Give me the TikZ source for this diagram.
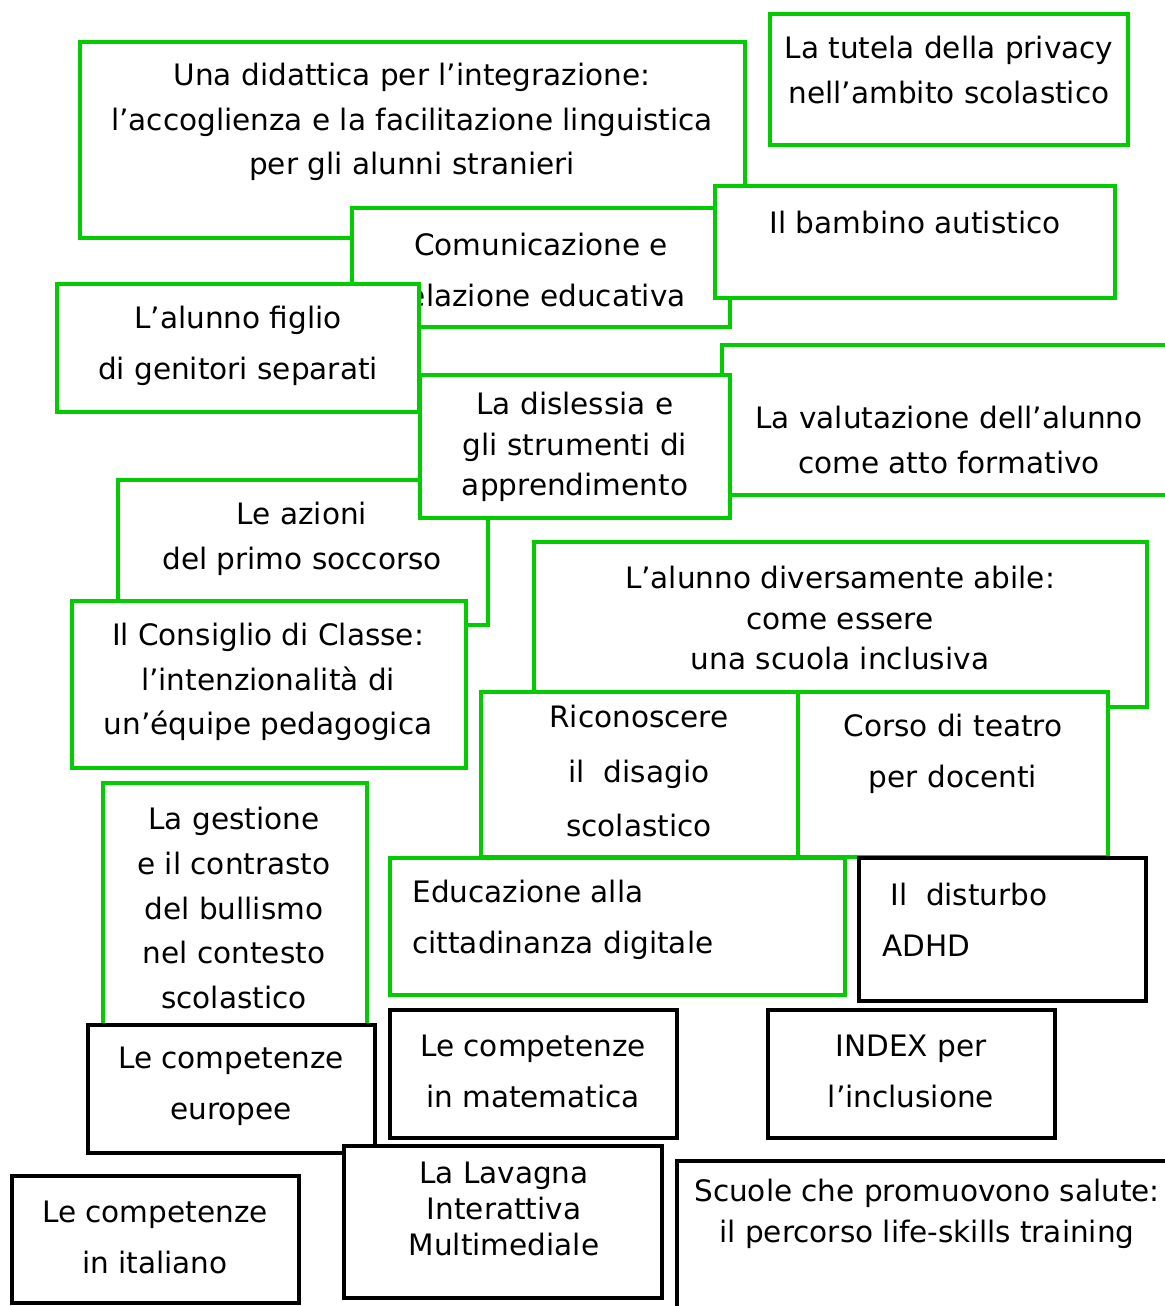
\documentclass[tikz,border=0pt]{standalone}
\usepackage{fontspec}
\setmainfont{DejaVu Sans}
\definecolor{boxgreen}{RGB}{0,204,0}
\tikzset{
	gbox/.style={draw=boxgreen, line width=2.3pt, fill=white},
	kbox/.style={draw=black, line width=2.6pt, fill=white},
	lbl/.style={align=center, inner sep=0pt, font=\fontsize{16.8}{25.5}\selectfont},
	tight/.style={font=\fontsize{16.8}{23}\selectfont},
	wide/.style={font=\fontsize{16.8}{29}\selectfont},
	narrow/.style={font=\fontsize{16.8}{20.5}\selectfont}
}
\begin{document}
\begin{tikzpicture}[x=0.02cm, y=-0.02cm]
	\useasboundingbox (0,0) rectangle (1165,1306);
	\clip (0,0) rectangle (1165,1306);
	% green boxes
	\draw[gbox] (80,42) rectangle (745,238);
	\node[lbl] (didattica) at (412,122) {Una didattica per l’integrazione:\\l’accoglienza e la facilitazione linguistica\\per gli alunni stranieri};
	\draw[gbox] (770,14) rectangle (1128,145);
	\node[lbl] (tutela) at (949,70) {La tutela della privacy\\nell’ambito scolastico};
	\draw[gbox] (352,208) rectangle (730,327);
	\node[lbl, wide] (comunicazione) at (541,270) {Comunicazione e\\relazione educativa};
	\draw[gbox] (715,186) rectangle (1115,298);
	\node[lbl] (autistico) at (915,222) {Il bambino autistico};
	\draw[gbox] (57,284) rectangle (419,412);
	\node[lbl, wide] (separati) at (238,346) {L’alunno figlio\\di genitori separati};
	\draw[gbox] (722,345) rectangle (1180,495);
	\node[lbl] (valutazione) at (949,440) {La valutazione dell’alunno\\come atto formativo};
	\draw[gbox] (118,480) rectangle (488,625);
	\node[lbl] (soccorso) at (302,539) {Le azioni\\del primo soccorso};
	\draw[gbox] (420,375) rectangle (730,518);
	\node[lbl, tight] (dislessia) at (575,447) {La dislessia e\\gli strumenti di\\apprendimento};
	\draw[gbox] (72,601) rectangle (466,768);
	\node[lbl] (consiglio) at (268,682) {Il Consiglio di Classe:\\l’intenzionalità di\\un’équipe pedagogica};
	\draw[gbox] (534,542) rectangle (1147,707);
	\node[lbl, tight] (abile) at (840,618) {L’alunno diversamente abile:\\come essere\\una scuola inclusiva};
	\draw[gbox] (481,692) rectangle (798,857);
	\node[lbl, font=\fontsize{16.8}{31}\selectfont] (disagio) at (639,771) {Riconoscere\\il~~disagio\\scolastico};
	\draw[gbox] (798,692) rectangle (1108,857);
	\node[lbl, wide] (teatro) at (953,754) {Corso di teatro\\per docenti};
	\draw[gbox] (103,783) rectangle (367,1035);
	\node[lbl] (bullismo) at (234,908) {La gestione\\e il contrasto\\del bullismo\\nel contesto\\scolastico};
	\draw[gbox] (390,858) rectangle (845,995);
	\node[lbl, wide, align=left, anchor=west] (digitale) at (412,920) {Educazione alla\\cittadinanza digitale};
	% black boxes
	\draw[kbox] (859,858) rectangle (1146,1001);
	\node[lbl, wide, align=left, anchor=west] (adhd) at (882,920) {\hspace{0.16cm}Il~~disturbo\\ADHD};
	\draw[kbox] (88,1025) rectangle (375,1153);
	\node[lbl, wide] (europee) at (231,1086) {Le competenze\\europee};
	\draw[kbox] (390,1010) rectangle (677,1138);
	\node[lbl, wide] (matematica) at (533,1071) {Le competenze\\in matematica};
	\draw[kbox] (768,1010) rectangle (1055,1138);
	\node[lbl, wide] (index) at (911,1071) {INDEX per\\l’inclusione};
	\draw[kbox] (12,1176) rectangle (299,1303);
	\node[lbl, wide] (italiano) at (155,1237) {Le competenze\\in italiano};
	\draw[kbox] (344,1146) rectangle (662,1298);
	\node[lbl, narrow] (lavagna) at (504,1209) {La Lavagna\\Interattiva\\Multimediale};
	\draw[kbox] (677,1161) rectangle (1180,1330);
	\node[lbl, tight] (salute) at (927,1214) {Scuole che promuovono salute:\\il percorso life-skills training};
\end{tikzpicture}
\end{document}
